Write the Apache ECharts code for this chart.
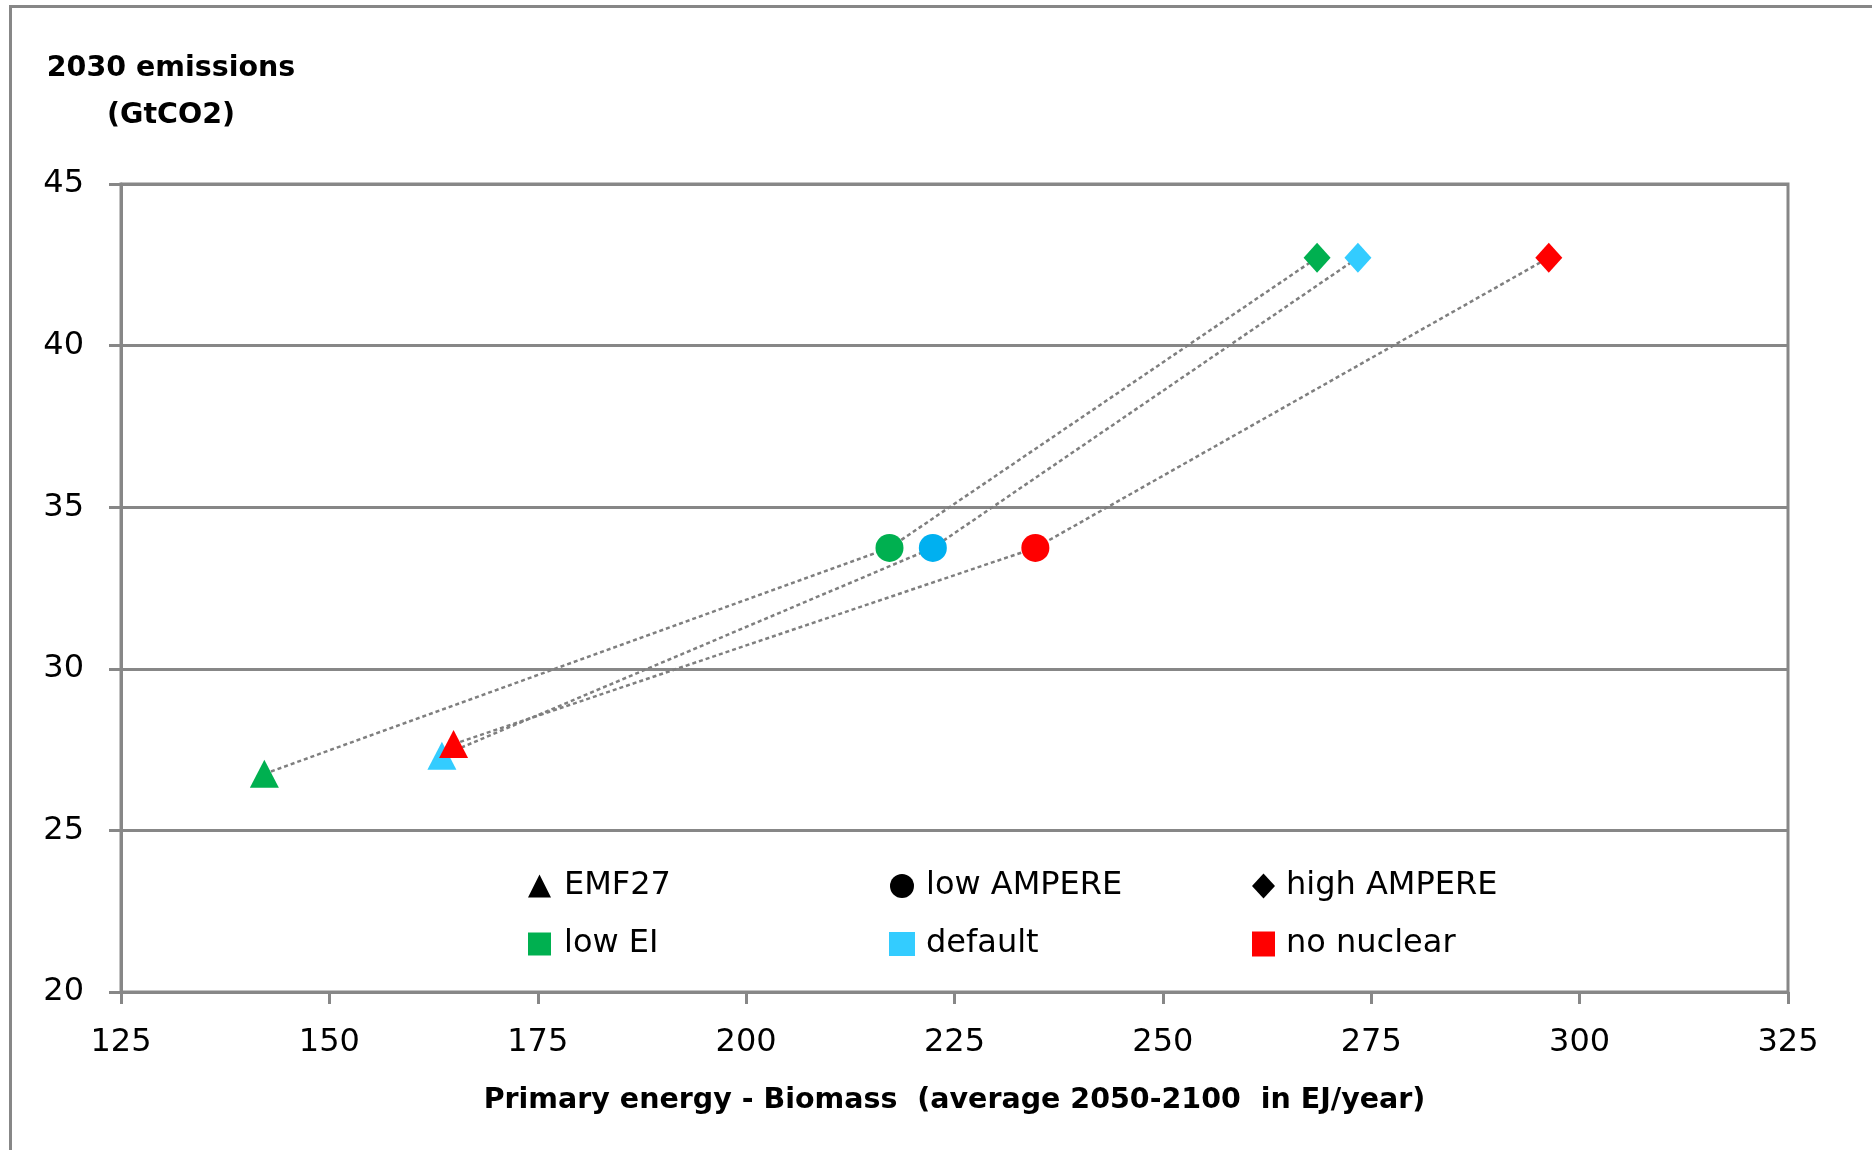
<!DOCTYPE html>
<html>
<head>
<meta charset="utf-8">
<script src="https://cdn.jsdelivr.net/npm/echarts@6/dist/echarts.min.js"></script>
<style>
  html, body { margin: 0; padding: 0; background: #fff; }
  #chart { width: 1872px; height: 1150px; }
</style>
</head>
<body>
<div id="chart"></div>
<script>
// Model families (marker shapes) and scenario variants (marker colours)
const models = ['EMF27', 'low AMPERE', 'high AMPERE'];
const modelSymbols = ['triangle', 'circle', 'diamond'];
const scenarios = ['low EI', 'default', 'no nuclear'];
const scenarioColors = ['#00B050', '#33CCFF', '#FF0000'];

// Primary energy - biomass (EJ/year, average 2050-2100), one entry per model
const biomassLowEI = [142.2, 217.2, 268.5];
const biomassDefault = [163.5, 222.4, 273.4];
const biomassNoNuclear = [164.9, 234.7, 296.3];

// 2030 emissions (GtCO2), one entry per model
const emissionsLowEI = [26.75, 33.74, 42.72];
const emissionsDefault = [27.31, 33.74, 42.72];
const emissionsNoNuclear = [27.67, 33.74, 42.72];

// Axis ticks
const xTicks = [125, 150, 175, 200, 225, 250, 275, 300, 325];
const yTicks = [20, 25, 30, 35, 40, 45];

const GRAY = '#878787';
const FONT = '"DejaVu Sans", sans-serif';

const biomass = [biomassLowEI, biomassDefault, biomassNoNuclear];
const emissions = [emissionsLowEI, emissionsDefault, emissionsNoNuclear];

const symbolSizes = {
  triangle: [29, 28],
  circle: [28, 28],
  diamond: [27, 30]
};

const lineSeries = scenarios.map(function (name, s) {
  return {
    name: name,
    type: 'line',
    z: 3,
    color: scenarioColors[s],
    itemStyle: { color: scenarioColors[s] },
    lineStyle: { color: '#7f7f7f', width: 2.5, type: [4, 3] },
    emphasis: { disabled: true },
    data: models.map(function (m, i) {
      const item = {
        value: [biomass[s][i], emissions[s][i]],
        symbol: modelSymbols[i],
        symbolSize: symbolSizes[modelSymbols[i]]
      };
      // the default-scenario circle uses a deeper sky blue
      if (s === 1 && modelSymbols[i] === 'circle') {
        item.itemStyle = { color: '#00B0F0' };
      }
      return item;
    })
  };
});

// Shape-only key entries (black markers)
const shapeSeries = models.map(function (name) {
  return {
    name: name,
    type: 'scatter',
    color: '#000',
    itemStyle: { color: '#000' },
    data: []
  };
});

const legendText = {
  fontFamily: FONT,
  fontSize: 32,
  lineHeight: 32,
  color: '#000'
};

function legendColumn(left, names, icons, w, h, padLeft) {
  return {
    orient: 'vertical',
    left: left,
    top: 870,
    padding: 0,
    itemGap: 26,
    itemWidth: w,
    itemHeight: h,
    selectedMode: false,
    itemStyle: { borderWidth: 0 },
    textStyle: Object.assign({ padding: [0, 0, 0, padLeft] }, legendText),
    data: names.map(function (n, k) {
      const entry = { name: n, icon: icons[k] };
      if (models.indexOf(n) >= 0) {
        entry.itemStyle = { color: '#000', opacity: 1 };
      }
      return entry;
    })
  };
}

const chart = echarts.init(document.getElementById('chart'), null, { renderer: 'canvas' });

chart.setOption({
  animation: false,
  backgroundColor: '#fff',
  grid: {
    left: 121,
    right: 84,
    top: 184,
    bottom: 158,
    show: true,
    borderColor: GRAY,
    borderWidth: 3,
    backgroundColor: 'transparent'
  },
  xAxis: {
    type: 'value',
    min: xTicks[0],
    max: xTicks[xTicks.length - 1],
    interval: xTicks[1] - xTicks[0],
    name: 'Primary energy - Biomass  (average 2050-2100  in EJ/year)',
    nameLocation: 'middle',
    nameGap: 94,
    nameTextStyle: { fontFamily: FONT, fontSize: 28.5, fontWeight: 'bold', color: '#000' },
    axisLine: { show: true, onZero: false, lineStyle: { color: GRAY, width: 3 } },
    axisTick: { show: true, length: 12, lineStyle: { color: GRAY, width: 3 } },
    axisLabel: { margin: 35, fontFamily: FONT, fontSize: 32, color: '#000' },
    splitLine: { show: false }
  },
  yAxis: {
    type: 'value',
    min: yTicks[0],
    max: yTicks[yTicks.length - 1],
    interval: yTicks[1] - yTicks[0],
    axisLine: { show: true, onZero: false, lineStyle: { color: GRAY, width: 3 } },
    axisTick: { show: true, length: 12, lineStyle: { color: GRAY, width: 3 } },
    axisLabel: { margin: 37, fontFamily: FONT, fontSize: 32, color: '#000' },
    splitLine: { show: true, lineStyle: { color: GRAY, width: 3 } }
  },
  legend: [
    legendColumn(528, ['EMF27', 'low EI'], ['triangle', 'rect'], 23, 23, 8),
    legendColumn(889, ['low AMPERE', 'default'], ['circle', 'rect'], 26, 24, 6),
    legendColumn(1252, ['high AMPERE', 'no nuclear'], ['diamond', 'rect'], 23, 25, 6)
  ],
  graphic: [
    {
      type: 'rect',
      silent: true,
      shape: { x: 10.5, y: 6.5, width: 1920, height: 1200 },
      style: { fill: 'none', stroke: GRAY, lineWidth: 3 }
    },
    {
      type: 'text',
      silent: true,
      x: 171,
      y: 92,
      style: {
        text: '2030 emissions\n(GtCO2)',
        align: 'center',
        verticalAlign: 'middle',
        lineHeight: 47,
        fontFamily: FONT,
        fontSize: 28.5,
        fontWeight: 'bold',
        fill: '#000'
      }
    }
  ],
  series: lineSeries.concat(shapeSeries)
});
</script>
</body>
</html>
